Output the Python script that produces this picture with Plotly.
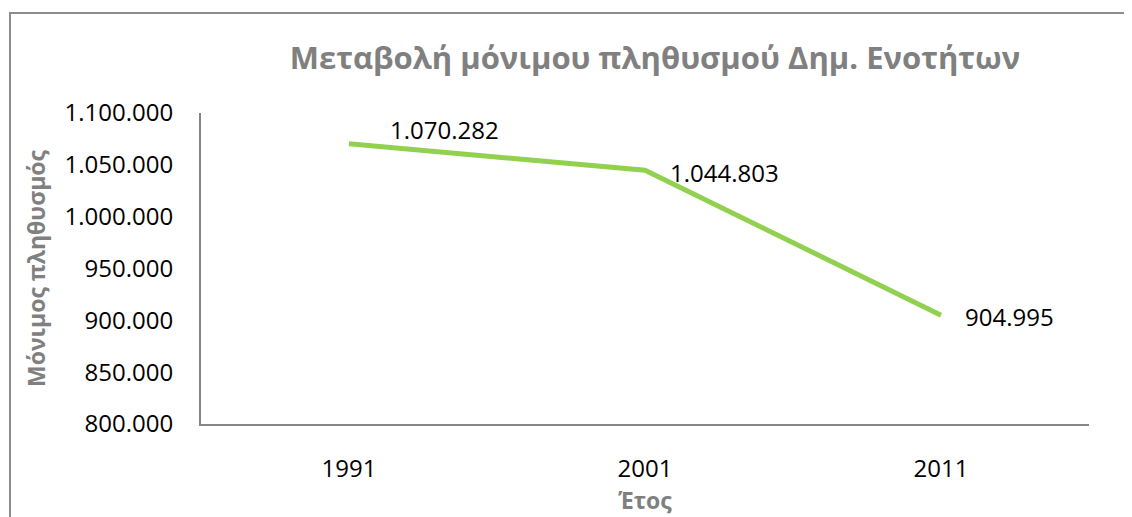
import plotly.graph_objects as go

years = ["1991", "2001", "2011"]
population = [1070282, 1044803, 904995]
y_ticks = [800000, 850000, 900000, 950000, 1000000, 1050000, 1100000]

title_text = "Μεταβολή μόνιμου πληθυσμού Δημ. Ενοτήτων"
y_title = "Μόνιμος πληθυσμός"
x_title = "Έτος"

# label offsets in pixels (style, not data)
label_dx = [39, 23, 22]
label_dy = [14, -2, -1]


def fmt(v):
    return f"{v:,}".replace(",", ".")


FONT = "Open Sans"
GRAY = "#808080"
AXIS = "#868686"
OFF = 8  # page body margin offset

W, H = 1132, 517
# target pixel geometry in the screenshot
PL, PR, PT, PB = 201, 1089, 113, 424
L = PL - OFF
T = PT - OFF
R = W - (PR - OFF)
B = H - (PB - OFF)
pw, ph = W - L - R, H - T - B


def px(xs):
    return (xs - OFF - L) / pw


def py(ys):
    return (H - B - (ys - OFF)) / ph


fig = go.Figure()
fig.add_trace(go.Scatter(
    x=years, y=population, mode="lines",
    line=dict(color="#92D050", width=5),
    hoverinfo="skip", showlegend=False,
))

for i, (y, dx, dy) in enumerate(zip(population, label_dx, label_dy)):
    fig.add_annotation(x=i, y=y, xref="x", yref="y", text=fmt(y), showarrow=False,
                       xanchor="left", yanchor="middle", xshift=dx, yshift=dy,
                       font=dict(family=FONT, size=24, color="#000000"))

fig.add_shape(type="rect", xref="paper", yref="paper",
              x0=px(10), x1=px(1150), y0=py(540), y1=py(13),
              line=dict(color="#8c8c8c", width=2), fillcolor="rgba(0,0,0,0)")

fig.update_layout(
    width=W, height=H,
    margin=dict(l=L, r=R, t=T, b=B),
    paper_bgcolor="white", plot_bgcolor="white",
    title=dict(text=title_text, xref="container", x=(655 - OFF) / W, xanchor="center",
               yref="container", y=1 - (58 - OFF) / H, yanchor="middle",
               font=dict(family=FONT, size=31, color=GRAY, weight="bold")),
    font=dict(family=FONT, size=24, color="#000000"),
)

fig.update_xaxes(
    type="category", range=[-0.5, 2.5],
    showline=True, linecolor=AXIS, linewidth=2,
    showgrid=False, zeroline=False, ticks="", ticklabelstandoff=22,
    tickfont=dict(family=FONT, size=24, color="#000000"),
    title=dict(text=x_title, standoff=10,
               font=dict(family=FONT, size=23, color=GRAY, weight="bold")),
)
fig.update_yaxes(
    range=[800000, 1100000], tickvals=y_ticks,
    ticktext=[fmt(v) for v in y_ticks],
    showline=True, linecolor=AXIS, linewidth=2,
    showgrid=False, zeroline=False, ticks="", ticklabelstandoff=21,
    tickfont=dict(family=FONT, size=24, color="#000000"),
    title=dict(text=y_title, standoff=12,
               font=dict(family=FONT, size=23, color=GRAY, weight="bold")),
)

fig.write_html("out.html")
